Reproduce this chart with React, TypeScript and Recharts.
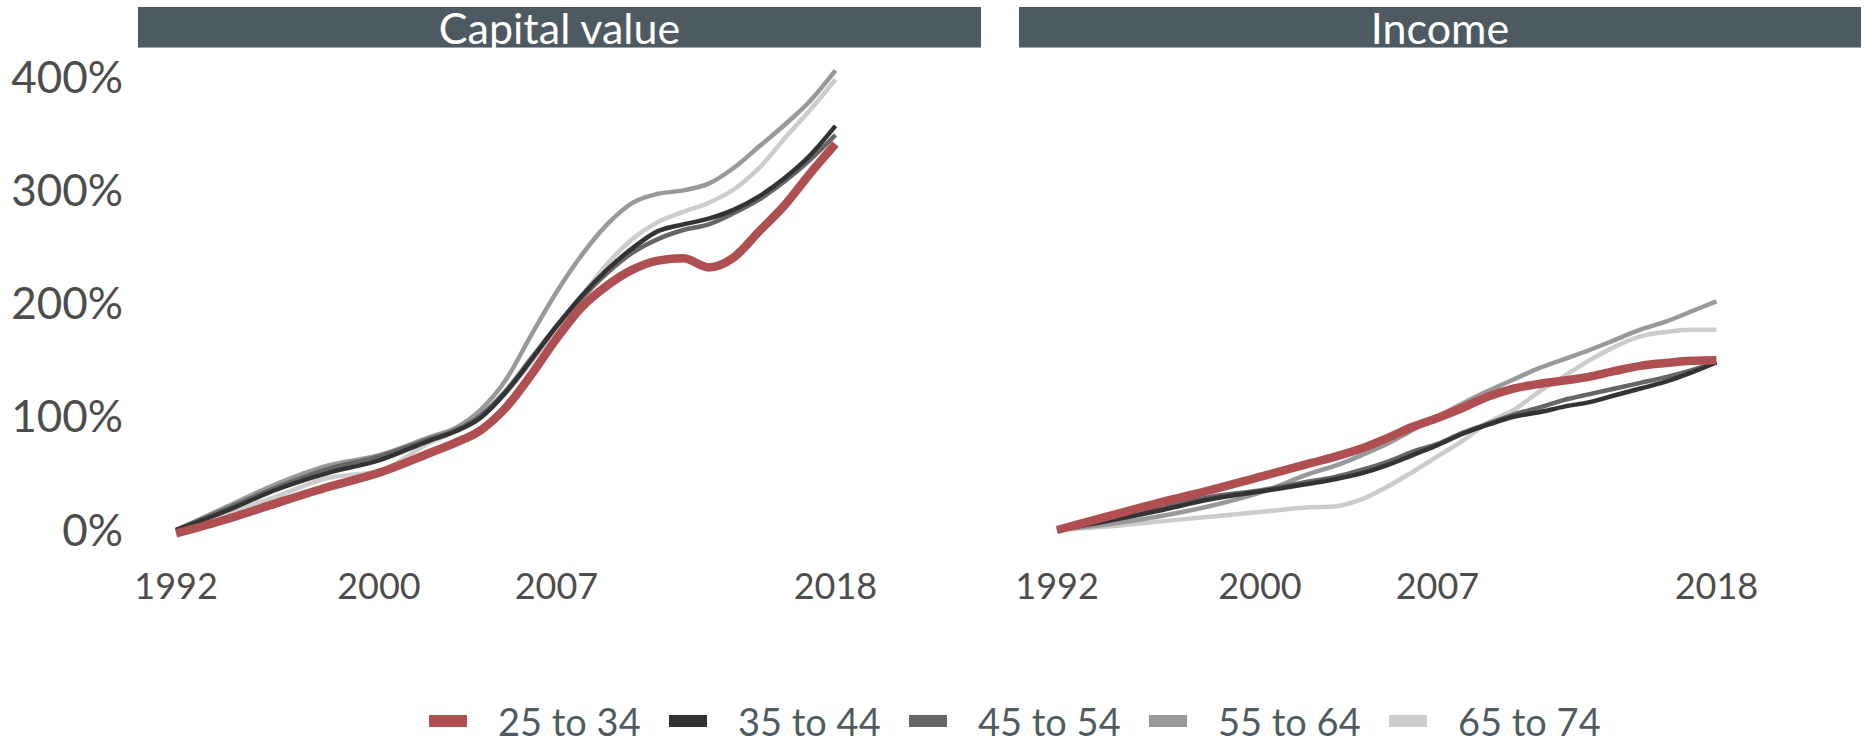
import React from "react";
import { LineChart, Line, XAxis, YAxis } from "recharts";

const years = [1992, 1994, 1996, 1998, 2000, 2002, 2003, 2004, 2005, 2006, 2007, 2008, 2009, 2010, 2011, 2012, 2013, 2014, 2015, 2016, 2017, 2018];

const seriesNames = ["25 to 34", "35 to 44", "45 to 54", "55 to 64", "65 to 74"];
const seriesColors = ["#b04f51", "#333333", "#666666", "#999999", "#cccccc"];

// Capital value (% growth since 1992)
const capital25to34 = [-3, 9.5, 24, 38, 50.5, 68, 77, 88, 108, 137, 169, 197, 216, 230, 238, 240, 232, 241, 264, 287, 315, 341];
const capital35to44 = [0, 17, 36, 50.5, 61.5, 79, 87, 99, 121.5, 150, 180, 207, 230, 249, 264, 270, 275, 283, 295, 311, 331, 357];
const capital45to54 = [0, 19, 38, 54, 65, 80.5, 88, 101, 123, 151.5, 180, 205, 227, 245, 257, 265, 270, 280, 292, 308, 327, 349];
const capital55to64 = [0, 20.5, 41, 57, 66, 82, 90, 106, 132.5, 172, 210, 243, 270, 289, 297, 300, 306, 320, 339, 358, 379, 406];
const capital65to74 = [0, 14, 30, 46, 52, 77, 87, 99, 121, 148, 178, 207, 235, 257, 272, 281, 289, 301, 320, 346, 371, 398];

// Income (% growth since 1992)
const income25to34 = [0, 12, 24, 35, 47, 59, 65, 72, 81, 91, 99, 108, 118, 125, 129, 132, 135.5, 140.5, 145, 147.5, 149.5, 150];
const income35to44 = [0, 8, 17, 27, 34, 41, 45, 50, 57, 66, 75, 85, 93, 100, 104, 109, 113, 119, 125, 131, 139, 148];
const income45to54 = [0, 9, 19, 29, 35, 43, 47, 53, 60, 69, 76, 86, 94, 102, 108, 115, 120, 125, 130, 135, 141, 148];
const income55to64 = [0, 5, 12, 21, 33, 50, 57, 66, 76, 88, 100, 112, 123, 133, 143, 151, 159, 168, 177, 184, 193, 202];
const income65to74 = [0, 3, 7.4, 11.8, 16, 20, 21, 27, 38, 51, 65, 79, 95, 106, 122, 136, 150, 162, 171, 175, 177, 177];

const xTicks = [1992, 2000, 2007, 2018];
const yTicks = [0, 100, 200, 300, 400];
const panelTitles = ["Capital value", "Income"];

const keys = ["s1", "s2", "s3", "s4", "s5"];

function buildRows(series: number[][]) {
  return years.map((year, i) => {
    const row: Record<string, number> = { year };
    series.forEach((s, k) => {
      row[keys[k]] = s[i];
    });
    return row;
  });
}

const capitalRows = buildRows([capital25to34, capital35to44, capital45to54, capital55to64, capital65to74]);
const incomeRows = buildRows([income25to34, income35to44, income45to54, income55to64, income65to74]);

const X_DOMAIN: [number, number] = [1990.5, 2023.7];
const Y_DOMAIN: [number, number] = [-26.5, 425.8];
const FONT = "Lato, 'Open Sans', sans-serif";

const drawOrder = [4, 3, 2, 1, 0];

function Panel({ rows, showY }: { rows: Record<string, number>[]; showY: boolean }) {
  return (
    <LineChart
      width={showY ? 990 : 862}
      height={620}
      data={rows}
      margin={{ top: 48, right: 10, bottom: 10, left: showY ? 8 : 10 }}
    >
      <XAxis
        dataKey="year"
        type="number"
        domain={X_DOMAIN}
        ticks={xTicks}
        axisLine={false}
        tickLine={false}
        tickMargin={7}
        height={50}
        tick={{ fill: "#4d4d4d", fontSize: 36, fontFamily: FONT }}
        interval={0}
      />
      <YAxis
        type="number"
        domain={Y_DOMAIN}
        ticks={yTicks}
        hide={!showY}
        width={showY ? 130 : 0}
        axisLine={false}
        tickLine={false}
        tickMargin={9}
        interval={0}
        tickFormatter={(v: number) => `${v}%`}
        tick={{ fill: "#4d4d4d", fontSize: 44, fontFamily: FONT }}
      />
      {drawOrder.map((k) => (
        <Line
          key={keys[k]}
          dataKey={keys[k]}
          name={seriesNames[k]}
          type="monotone"
          stroke={seriesColors[k]}
          strokeWidth={k === 0 ? 8.5 : 4.5}
          dot={false}
          activeDot={false}
          isAnimationActive={false}
        />
      ))}
    </LineChart>
  );
}

const headerStyle: React.CSSProperties = {
  position: "absolute",
  top: 7,
  height: 41,
  background: "#4d5a61",
  color: "#ffffff",
  fontFamily: FONT,
  fontSize: 43,
  lineHeight: "41px",
  textAlign: "center",
  boxSizing: "border-box",
  borderBottom: "1px solid #9aa3a8",
};

export default function App() {
  return (
    <div style={{ position: "absolute", left: 0, top: 0, width: 1869, height: 743, background: "#ffffff", overflow: "hidden" }}>
      <div style={{ ...headerStyle, left: 138, width: 843 }}>{panelTitles[0]}</div>
      <div style={{ ...headerStyle, left: 1019, width: 842 }}>{panelTitles[1]}</div>
      <div style={{ position: "absolute", left: 0, top: 0 }}>
        <Panel rows={capitalRows} showY={true} />
      </div>
      <div style={{ position: "absolute", left: 1009, top: 0 }}>
        <Panel rows={incomeRows} showY={false} />
      </div>
      <div
        style={{
          position: "absolute",
          left: 429,
          top: 701,
          height: 40,
          display: "flex",
          alignItems: "center",
          fontFamily: FONT,
          fontSize: 38,
          lineHeight: 1,
          color: "#4f5b62",
        }}
      >
        {seriesNames.map((name, i) => (
          <div key={name} style={{ width: 240, height: 40, display: "flex", alignItems: "center" }}>
            <div style={{ width: 38, height: 12, background: seriesColors[i], marginRight: 31 }} />
            <span style={{ lineHeight: 1 }}>{name}</span>
          </div>
        ))}
      </div>
    </div>
  );
}
